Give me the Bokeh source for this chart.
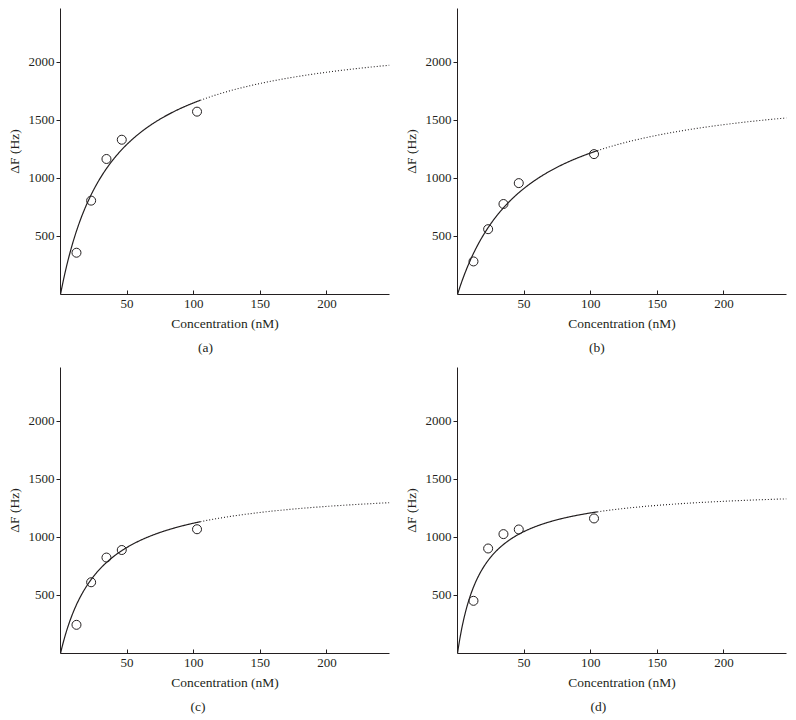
import numpy as np
from bokeh.plotting import figure
from bokeh.models import Title, Range1d, FixedTicker
from bokeh.layouts import column, row
from bokeh.embed import file_html
from bokeh.resources import INLINE

# ---- data ----
conc = [12, 23, 34.5, 46, 102.5]          # nM
df_a = [360, 809, 1168, 1334, 1576]       # Hz
df_b = [285, 563, 780, 960, 1210]
df_c = [247, 614, 827, 892, 1071]
df_d = [454, 905, 1029, 1069, 1164]
# Langmuir fit parameters (dF = Fmax * c / (Kd + c))
fmax = [2280, 1830, 1455, 1430]
kd = [38, 50, 29.5, 18]
fit_end = 105        # solid fit up to here, dotted extrapolation beyond
x_ticks = [50, 100, 150, 200]
y_ticks = [500, 1000, 1500, 2000]
captions = ["(a)", "(b)", "(c)", "(d)"]
x_label = "Concentration (nM)"
y_label = "\u0394F (Hz)"

INK = "#231f20"
FONT = "Liberation Serif"
X_MAX, Y_MAX = 247, 2465
FW, FH = 329, 286


def panel(i, ys, left, right, top, bottom, cap_offset):
    p = figure(frame_width=FW, frame_height=FH,
               x_range=Range1d(0, X_MAX), y_range=Range1d(0, Y_MAX),
               output_backend="svg", toolbar_location=None,
               min_border_left=left, min_border_right=right,
               min_border_top=top, min_border_bottom=bottom)
    p.outline_line_color = None
    p.grid.visible = False
    p.background_fill_color = "white"
    p.border_fill_color = "white"

    xa = p.xaxis[0]
    xa.ticker = FixedTicker(ticks=x_ticks)
    xa.major_tick_in = 4
    xa.major_tick_out = 0
    xa.minor_tick_in = 0
    xa.minor_tick_out = 0
    xa.major_label_standoff = 5
    xa.axis_label = x_label
    xa.axis_label_standoff = 5
    ya = p.yaxis[0]
    ya.ticker = FixedTicker(ticks=y_ticks)
    ya.major_tick_in = 0
    ya.major_tick_out = 4
    ya.minor_tick_in = 0
    ya.minor_tick_out = 0
    ya.major_label_standoff = 2
    ya.axis_label = y_label
    ya.axis_label_standoff = 4
    for ax in (xa, ya):
        ax.axis_line_color = INK
        ax.major_tick_line_color = INK
        ax.axis_line_width = 1
        ax.major_label_text_font = FONT
        ax.major_label_text_font_size = "13px"
        ax.major_label_text_color = INK
        ax.axis_label_text_font = FONT
        ax.axis_label_text_font_size = "13.5px"
        ax.axis_label_text_font_style = "normal"
        ax.axis_label_text_color = INK

    # fitted curve (solid within measured range, dotted extrapolation)
    xs = np.linspace(0, fit_end, 300)
    xe = np.linspace(fit_end, X_MAX, 200)
    p.line(xs, fmax[i] * xs / (kd[i] + xs), line_color=INK, line_width=1.2)
    p.line(xe, fmax[i] * xe / (kd[i] + xe), line_color=INK, line_width=1.1,
           line_dash="1 2")
    # measured points
    p.scatter(conc, ys, marker="circle", size=9, fill_color=None,
              line_color=INK, line_width=1)

    # caption below the panel
    p.add_layout(Title(text=captions[i], align="left", offset=cap_offset,
                       text_font=FONT, text_font_size="13.5px",
                       text_font_style="normal", text_color=INK,
                       standoff=8), "below")
    return p


pa = panel(0, df_a, 60, 11, 8, 73, 137.5)
pb = panel(1, df_b, 57, 2, 8, 73, 131.5)
pc = panel(2, df_c, 60, 11, 0, 60, 130)
pd_ = panel(3, df_d, 57, 2, 0, 60, 133)

layout = column(row(pa, pb), row(pc, pd_))
open("out.html", "w").write(file_html(layout, INLINE))
